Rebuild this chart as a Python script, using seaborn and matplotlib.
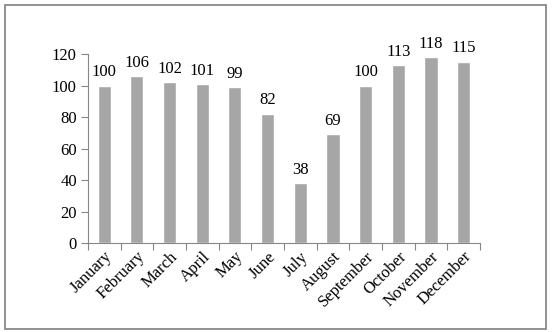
import seaborn as sns
import matplotlib.pyplot as plt
import pandas as pd
import numpy as np
from matplotlib.patches import Rectangle

months = ["January", "February", "March", "April", "May", "June",
          "July", "August", "September", "October", "November", "December"]
values = [100, 106, 102, 101, 99, 82, 38, 69, 100, 113, 118, 115]

sns.set_theme(style="white")
plt.rcParams['font.family'] = ['Liberation Serif', 'DejaVu Serif']

df = pd.DataFrame({"month": months, "value": values})

fig = plt.figure(figsize=(5.53, 3.32), dpi=100)
ax = fig.add_axes([0.159, 0.268, 0.709, 0.569])

sns.barplot(data=df, x="month", y="value", color="#a6a6a6", saturation=1,
            width=0.4, ax=ax)

ax.set_xlim(-0.5, len(months) - 0.5)
ax.set_ylim(0, 120)
ax.set_yticks(np.arange(0, 121, 20))
ax.set_xlabel("")
ax.set_ylabel("")

# value labels
for i, v in enumerate(values):
    ax.text(i, v + 3.5, str(v), ha="center", va="bottom", fontsize=12,
            color="black", clip_on=False)

# category boundary ticks (Excel style)
ax.set_xticks(np.arange(len(months)))
ax.set_xticklabels(months, rotation=45, ha="right", rotation_mode="anchor",
                   fontsize=12)
ax.set_xticks(np.arange(-0.5, len(months)), minor=True)
ax.tick_params(axis="x", which="major", length=0, pad=4)
ax.tick_params(axis="x", which="minor", length=5, width=0.8, color="#868686",
               direction="out", bottom=True)
ax.tick_params(axis="y", length=5, width=0.8, color="#868686", direction="out",
               left=True, labelsize=12, pad=3)
for lbl in ax.get_xticklabels() + ax.get_yticklabels():
    lbl.set_color("black")

for side in ["top", "right"]:
    ax.spines[side].set_visible(False)
for side in ["left", "bottom"]:
    ax.spines[side].set_color("#868686")
    ax.spines[side].set_linewidth(0.8)

# outer frame
fig.patches.append(Rectangle((0.009, 0.009), 0.979, 0.976, transform=fig.transFigure,
                             fill=False, edgecolor="#7f7f7f", linewidth=1.2))

fig.savefig("out.png", dpi=100)
